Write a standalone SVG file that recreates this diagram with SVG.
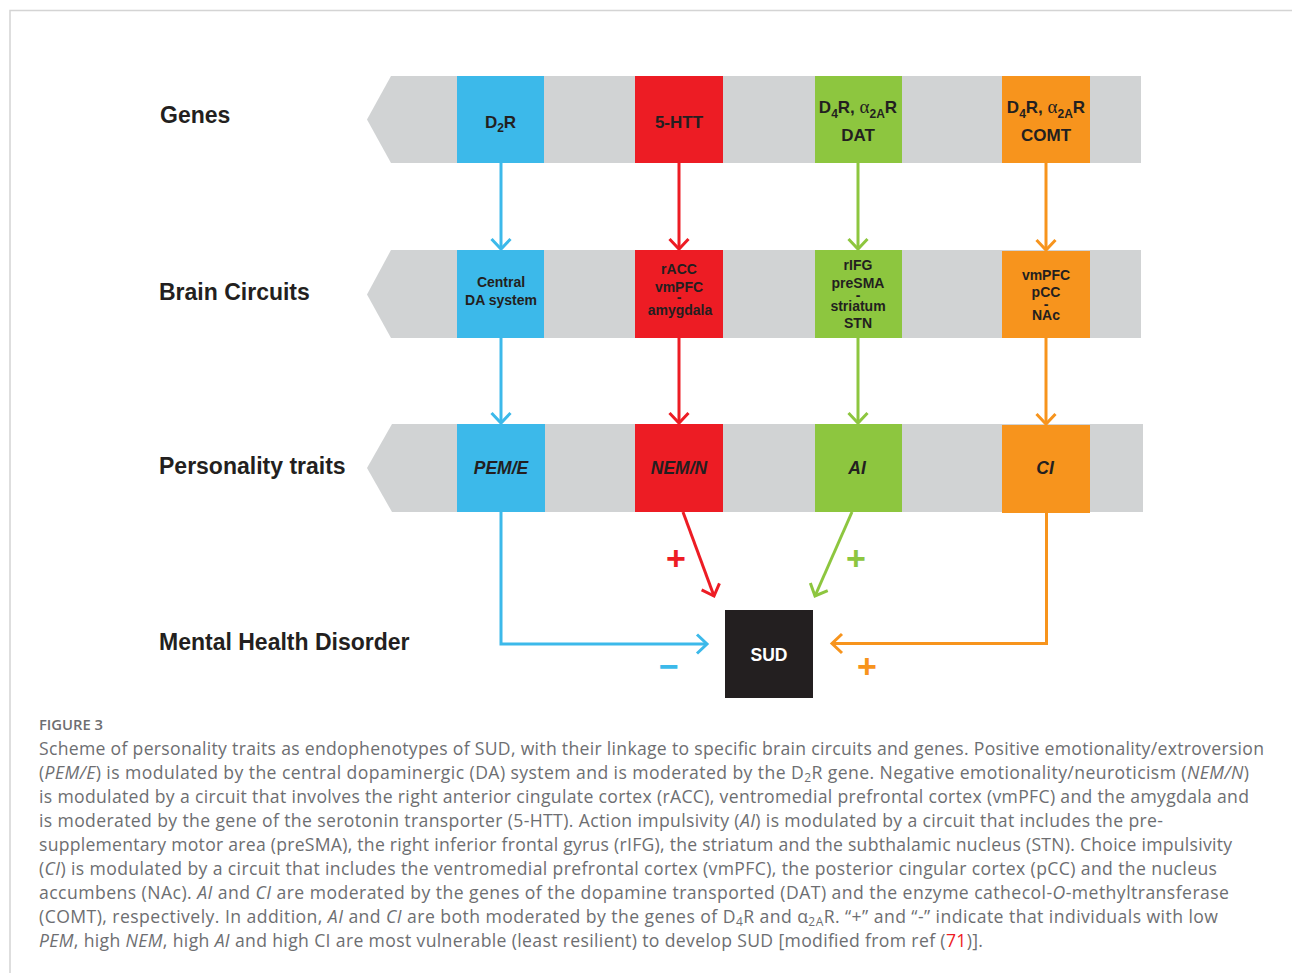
<svg xmlns="http://www.w3.org/2000/svg" width="1292" height="973" viewBox="0 0 1292 973">
<style>
.band{fill:#d1d3d4}
.blue{fill:#3cb9ea}
.red{fill:#ed1c24}
.green{fill:#8dc63f}
.orange{fill:#f7941d}
.lab{font-family:"Liberation Sans",Arial,sans-serif;font-weight:bold;font-size:23px;fill:#231f20}
.bt{font-family:"Liberation Sans",Arial,sans-serif;font-weight:bold;font-size:17px;fill:#231f20;text-anchor:middle}
.bs{font-family:"Liberation Sans",Arial,sans-serif;font-weight:bold;font-size:14px;fill:#231f20;text-anchor:middle}
.bi{font-family:"Liberation Sans",Arial,sans-serif;font-weight:bold;font-style:italic;font-size:17.5px;fill:#231f20;text-anchor:middle}
.alpha{font-family:"Liberation Serif","Times New Roman",serif;font-weight:normal}
.sign{font-family:"Liberation Sans",Arial,sans-serif;font-weight:bold;font-size:34px;text-anchor:middle}
.cap{font-family:"Open Sans","Liberation Sans",sans-serif;font-size:17.6px;fill:#6d6e71}
.ln{fill:none;stroke-width:3}
.sb{stroke:#3cb9ea}.sr{stroke:#ed1c24}.sg{stroke:#8dc63f}.so{stroke:#f7941d}
</style>
<defs>
<marker id="mb" markerUnits="userSpaceOnUse" markerWidth="30" markerHeight="30" viewBox="-15 -15 30 30" refX="0" refY="0" orient="auto"><path d="M-10,-9.5 L0,0 L-10,9.5" fill="none" stroke="#3cb9ea" stroke-width="3"/></marker>
<marker id="mr" markerUnits="userSpaceOnUse" markerWidth="30" markerHeight="30" viewBox="-15 -15 30 30" refX="0" refY="0" orient="auto"><path d="M-10,-9.5 L0,0 L-10,9.5" fill="none" stroke="#ed1c24" stroke-width="3"/></marker>
<marker id="mg" markerUnits="userSpaceOnUse" markerWidth="30" markerHeight="30" viewBox="-15 -15 30 30" refX="0" refY="0" orient="auto"><path d="M-10,-9.5 L0,0 L-10,9.5" fill="none" stroke="#8dc63f" stroke-width="3"/></marker>
<marker id="mo" markerUnits="userSpaceOnUse" markerWidth="30" markerHeight="30" viewBox="-15 -15 30 30" refX="0" refY="0" orient="auto"><path d="M-10,-9.5 L0,0 L-10,9.5" fill="none" stroke="#f7941d" stroke-width="3"/></marker>
</defs>
<rect width="1292" height="973" fill="#ffffff"/>
<path d="M10,973 V10.5 H1292" fill="none" stroke="#d4d4d4" stroke-width="1.5"/>

<g id="row-labels">
<text class="lab" x="160" y="123">Genes</text>
<text class="lab" x="159" y="300">Brain Circuits</text>
<text class="lab" x="159" y="474">Personality traits</text>
<text class="lab" x="159" y="650">Mental Health Disorder</text>
</g>

<g id="bands">
<polygon class="band" points="391,76 1141,76 1141,163 391,163 367,119.5"/>
<polygon class="band" points="391,250 1141,250 1141,338 391,338 367,294.5"/>
<polygon class="band" points="392,424 1143,424 1143,512 392,512 367,468"/>
</g>

<g id="connectors">
<path class="ln sb" d="M501,163 V249" marker-end="url(#mb)"/>
<path class="ln sr" d="M679,163 V249" marker-end="url(#mr)"/>
<path class="ln sg" d="M858,163 V249" marker-end="url(#mg)"/>
<path class="ln so" d="M1046,163 V250" marker-end="url(#mo)"/>
<path class="ln sb" d="M501,338 V423" marker-end="url(#mb)"/>
<path class="ln sr" d="M679,338 V423" marker-end="url(#mr)"/>
<path class="ln sg" d="M858,338 V423" marker-end="url(#mg)"/>
<path class="ln so" d="M1046,338 V424" marker-end="url(#mo)"/>
<path class="ln sb" d="M501,512 V644 H707" marker-end="url(#mb)"/>
<path class="ln sr" d="M683,512 L714,596" marker-end="url(#mr)"/>
<path class="ln sg" d="M852,512 L815,596" marker-end="url(#mg)"/>
<path class="ln so" d="M1046.5,512 V643.5 H832" marker-end="url(#mo)"/>
<text class="sign" x="676" y="570" fill="#ed1c24">+</text>
<text class="sign" x="856" y="570" fill="#8dc63f">+</text>
<text class="sign" x="867" y="678" fill="#f7941d">+</text>
<text class="sign" x="669" y="678" fill="#3cb9ea">−</text>
</g>

<g id="gene-d2r">
<rect class="blue" x="457" y="76" width="87" height="87"/>
<text class="bt" x="500.5" y="128">D<tspan font-size="12" dy="4">2</tspan><tspan dy="-4">R</tspan></text>
</g>
<g id="gene-5htt">
<rect class="red" x="635" y="76" width="88" height="87"/>
<text class="bt" x="679" y="128">5-HTT</text>
</g>
<g id="gene-dat">
<rect class="green" x="815" y="76" width="87" height="87"/>
<text class="bt" x="858" y="113">D<tspan font-size="12" dy="5">4</tspan><tspan dy="-5">R, </tspan><tspan class="alpha" font-size="19">α</tspan><tspan font-size="12" dy="5">2A</tspan><tspan dy="-5">R</tspan></text>
<text class="bt" x="858" y="141">DAT</text>
</g>
<g id="gene-comt">
<rect class="orange" x="1002" y="76" width="88" height="87"/>
<text class="bt" x="1046" y="113">D<tspan font-size="12" dy="5">4</tspan><tspan dy="-5">R, </tspan><tspan class="alpha" font-size="19">α</tspan><tspan font-size="12" dy="5">2A</tspan><tspan dy="-5">R</tspan></text>
<text class="bt" x="1046" y="141">COMT</text>
</g>

<g id="circuit-da">
<rect class="blue" x="457" y="250" width="87" height="88"/>
<text class="bs"><tspan x="501" y="287">Central</tspan><tspan x="501" y="305">DA system</tspan></text>
</g>
<g id="circuit-racc">
<rect class="red" x="635" y="250" width="88" height="88"/>
<text class="bs"><tspan x="679" y="274">rACC</tspan><tspan x="679" y="292">vmPFC</tspan><tspan x="679" y="302">-</tspan><tspan x="680" y="315">amygdala</tspan></text>
</g>
<g id="circuit-rifg">
<rect class="green" x="815" y="250" width="87" height="88"/>
<text class="bs"><tspan x="858" y="270">rIFG</tspan><tspan x="858" y="288">preSMA</tspan><tspan x="858" y="300">-</tspan><tspan x="858" y="311">striatum</tspan><tspan x="858" y="328">STN</tspan></text>
</g>
<g id="circuit-vmpfc">
<rect class="orange" x="1002" y="251" width="88" height="87"/>
<text class="bs"><tspan x="1046" y="280">vmPFC</tspan><tspan x="1046" y="297">pCC</tspan><tspan x="1046" y="309">-</tspan><tspan x="1046" y="320">NAc</tspan></text>
</g>

<g id="trait-pem">
<rect class="blue" x="457" y="424" width="88" height="88"/>
<text class="bi" x="501" y="474">PEM/E</text>
</g>
<g id="trait-nem">
<rect class="red" x="635" y="424" width="88" height="88"/>
<text class="bi" x="679" y="474">NEM/N</text>
</g>
<g id="trait-ai">
<rect class="green" x="815" y="424" width="87" height="88"/>
<text class="bi" x="857" y="474">AI</text>
</g>
<g id="trait-ci">
<rect class="orange" x="1002" y="425" width="88" height="88"/>
<text class="bi" x="1045" y="474">CI</text>
</g>

<g id="sud">
<rect x="725" y="610" width="88" height="88" fill="#231f20"/>
<text class="bt" x="769" y="661" style="fill:#ffffff;font-size:17.5px">SUD</text>
</g>

<g id="caption">
<text x="39" y="730" style="font-family:'Open Sans','Liberation Sans',sans-serif;font-size:14px;font-weight:600;fill:#6d6e71" textLength="64" lengthAdjust="spacingAndGlyphs">FIGURE 3</text>
<text class="cap" x="39" y="755" textLength="1225">Scheme of personality traits as endophenotypes of SUD, with their linkage to specific brain circuits and genes. Positive emotionality/extroversion</text>
<text class="cap" x="39" y="779" textLength="1210">(<tspan font-style="italic">PEM/E</tspan>) is modulated by the central dopaminergic (DA) system and is moderated by the D<tspan font-size="12" dy="3">2</tspan><tspan dy="-3">R gene. Negative emotionality/neuroticism (</tspan><tspan font-style="italic">NEM/N</tspan>)</text>
<text class="cap" x="39" y="803" textLength="1210">is modulated by a circuit that involves the right anterior cingulate cortex (rACC), ventromedial prefrontal cortex (vmPFC) and the amygdala and</text>
<text class="cap" x="39" y="827" textLength="1124">is moderated by the gene of the serotonin transporter (5-HTT). Action impulsivity (<tspan font-style="italic">AI</tspan>) is modulated by a circuit that includes the pre-</text>
<text class="cap" x="39" y="851" textLength="1193">supplementary motor area (preSMA), the right inferior frontal gyrus (rIFG), the striatum and the subthalamic nucleus (STN). Choice impulsivity</text>
<text class="cap" x="39" y="875" textLength="1178">(<tspan font-style="italic">CI</tspan>) is modulated by a circuit that includes the ventromedial prefrontal cortex (vmPFC), the posterior cingular cortex (pCC) and the nucleus</text>
<text class="cap" x="39" y="899" textLength="1190">accumbens (NAc). <tspan font-style="italic">AI</tspan> and <tspan font-style="italic">CI</tspan> are moderated by the genes of the dopamine transported (DAT) and the enzyme cathecol-<tspan font-style="italic">O</tspan>-methyltransferase</text>
<text class="cap" x="39" y="923" textLength="1179">(COMT), respectively. In addition, <tspan font-style="italic">AI</tspan> and <tspan font-style="italic">CI</tspan> are both moderated by the genes of D<tspan font-size="12" dy="3">4</tspan><tspan dy="-3">R and α</tspan><tspan font-size="12" dy="3">2A</tspan><tspan dy="-3">R. “+” and “-” indicate that individuals with low</tspan></text>
<text class="cap" x="39" y="947" textLength="944"><tspan font-style="italic">PEM</tspan>, high <tspan font-style="italic">NEM</tspan>, high <tspan font-style="italic">AI</tspan> and high CI are most vulnerable (least resilient) to develop SUD [modified from ref (<tspan fill="#ed1c24">71</tspan>)].</text>
</g>
</svg>
